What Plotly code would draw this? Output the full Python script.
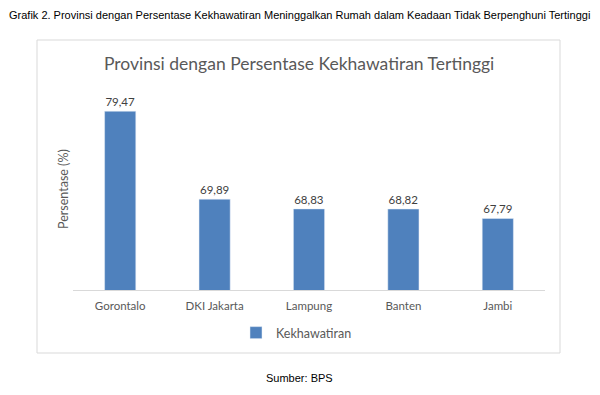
import plotly.graph_objects as go

provinces = ["Gorontalo", "DKI Jakarta", "Lampung", "Banten", "Jambi"]
values = [79.47, 69.89, 68.83, 68.82, 67.79]
series_name = "Kekhawatiran"
labels = [f"{v:.2f}".replace(".", ",") for v in values]

OFF = 8  # page body margin
W, H = 600 - OFF, 395 - OFF
# plot area in page pixels: x 73..545, y 88..290
L, R = 73 - OFF, 600 - 545
T, B = 88 - OFF, 395 - 290
pw, ph = W - L - R, H - T - B

def px(x):
    return (x - OFF - L) / pw

def py(y):
    return (H - B - (y - OFF)) / ph

fig = go.Figure()
fig.add_trace(go.Bar(
    x=provinces, y=values, name=series_name,
    marker=dict(color="#4F81BD"),
    text=labels, textposition="outside", cliponaxis=False,
    textfont=dict(family="Lato", size=11.5, color="#404040"),
    width=0.33, showlegend=True,
))

fig.update_layout(
    width=W, height=H,
    margin=dict(l=L, r=R, t=T, b=B),
    paper_bgcolor="white", plot_bgcolor="white",
    font=dict(family="Lato", color="#595959"),
    xaxis=dict(showline=True, linecolor="#D9D9D9", linewidth=1,
               showgrid=False, ticks="", ticklabelstandoff=5,
               tickfont=dict(size=11.5, color="#595959")),
    yaxis=dict(range=[60, 82], showticklabels=False, showgrid=False,
               zeroline=False, showline=False, ticks=""),
    showlegend=True,
    legend=dict(orientation="h", x=px(236), xanchor="left", y=py(333), yanchor="middle",
                font=dict(size=12.5, color="#595959"), itemwidth=30),
    shapes=[dict(type="rect", xref="paper", yref="paper",
                 x0=px(37), x1=px(560), y0=py(353), y1=py(40),
                 line=dict(color="#D9D9D9", width=1), fillcolor="rgba(0,0,0,0)", layer="below")],
    annotations=[
        dict(text="Grafik 2. Provinsi dengan Persentase Kekhawatiran Meninggalkan Rumah dalam Keadaan Tidak Berpenghuni Tertinggi",
             xref="paper", yref="paper", x=px(299), y=py(15), xanchor="center", yanchor="middle",
             showarrow=False, font=dict(family="Liberation Sans", size=11, color="#000000")),
        dict(text="Provinsi dengan Persentase Kekhawatiran Tertinggi",
             xref="paper", yref="paper", x=px(299), y=py(64), xanchor="center", yanchor="middle",
             showarrow=False, font=dict(family="Lato", size=17.5, color="#595959")),
        dict(text="Persentase (%)", textangle=-90,
             xref="paper", yref="paper", x=px(63), y=py(189), xanchor="center", yanchor="middle",
             showarrow=False, font=dict(family="Lato", size=12.5, color="#595959")),
        dict(text="Sumber: BPS",
             xref="paper", yref="paper", x=px(299), y=py(378), xanchor="center", yanchor="middle",
             showarrow=False, font=dict(family="Liberation Sans", size=11, color="#000000")),
    ],
)

fig.write_html("out.html")
